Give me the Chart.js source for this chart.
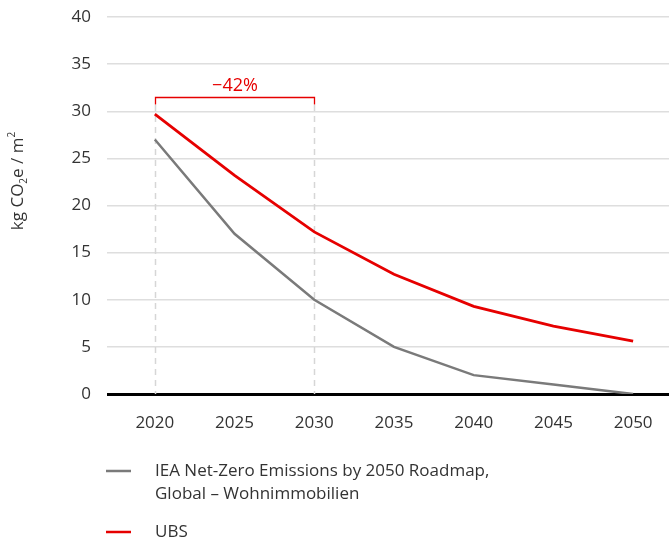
<!DOCTYPE html>
<html>
<head>
<meta charset="utf-8">
<script src="https://cdn.jsdelivr.net/npm/chart.js@4/dist/chart.umd.min.js"></script>
<style>
  html, body { margin: 0; padding: 0; background: #fff; }
</style>
</head>
<body>
<canvas id="linechart" width="669" height="540"></canvas>
<script>
// Emissionspfade in kg CO2e pro m2
const years = [2020, 2025, 2030, 2035, 2040, 2045, 2050];
const ieaValues = [27, 17, 10, 5, 2, 1, 0];
const ubsValues = [29.7, 23.2, 17.2, 12.7, 9.3, 7.2, 5.6];
const yTicks = [0, 5, 10, 15, 20, 25, 30, 35, 40];
const ieaLabel = ['IEA Net-Zero Emissions by 2050 Roadmap,', 'Global – Wohnimmobilien'];
const ubsLabel = ['UBS'];

const RED = '#e60000';
const GREY = '#7a7a7a';
const TEXT = '#333333';
const FONT = '"Open Sans", "Noto Sans", sans-serif';

// Veränderung UBS 2020 -> 2030
const changePct = Math.round((ubsValues[2] - ubsValues[0]) / ubsValues[0] * 100);
const changeText = '\u2212' + Math.abs(changePct) + '%';

const extras = {
    id: 'extras',
    beforeDatasetsDraw(chart) {
        const ctx = chart.ctx, x = chart.scales.x, y = chart.scales.y;
        const top = y.getPixelForValue(31.5) + 8;
        const bottom = y.getPixelForValue(0);
        ctx.save();
        ctx.strokeStyle = '#d6d6d6';
        ctx.lineWidth = 1.5;
        ctx.setLineDash([6, 5]);
        [years[0], years[2]].forEach(v => {
            const px = Math.round(x.getPixelForValue(v)) + 0.5;
            ctx.beginPath();
            ctx.moveTo(px, top);
            ctx.lineTo(px, bottom);
            ctx.stroke();
        });
        ctx.restore();
    },
    afterDraw(chart) {
        const ctx = chart.ctx, x = chart.scales.x, y = chart.scales.y;
        ctx.save();

        // Klammer -42%
        const x1 = Math.round(x.getPixelForValue(years[0])) + 0.5;
        const x2 = Math.round(x.getPixelForValue(years[2])) + 0.5;
        const by = Math.round(y.getPixelForValue(31.5)) + 0.5;
        ctx.strokeStyle = RED;
        ctx.lineWidth = 1.3;
        ctx.beginPath();
        ctx.moveTo(x1, by + 7);
        ctx.lineTo(x1, by);
        ctx.lineTo(x2, by);
        ctx.lineTo(x2, by + 7);
        ctx.stroke();
        ctx.fillStyle = RED;
        ctx.font = '18px ' + FONT;
        ctx.textAlign = 'center';
        ctx.textBaseline = 'middle';
        ctx.fillText(changeText, (x1 + x2) / 2, by - 12);

        // Achsentitel kg CO2e / m2
        ctx.translate(17, 181);
        ctx.rotate(-Math.PI / 2);
        ctx.fillStyle = TEXT;
        ctx.textBaseline = 'alphabetic';
        ctx.textAlign = 'left';
        const parts = [['kg CO', 0, 17], ['2', 4, 10], ['e / m', 0, 17], ['2', -8, 10]];
        let w = 0;
        parts.forEach(p => { ctx.font = p[2] + 'px ' + FONT; w += ctx.measureText(p[0]).width; });
        let cx = -w / 2;
        parts.forEach(p => {
            ctx.font = p[2] + 'px ' + FONT;
            ctx.fillText(p[0], cx, 6 + p[1]);
            cx += ctx.measureText(p[0]).width;
        });
        ctx.setTransform(1, 0, 0, 1, 0, 0);

        // Legende
        const entries = [[GREY, ieaLabel, 471], [RED, ubsLabel, 532]];
        ctx.font = '17px ' + FONT;
        ctx.textAlign = 'left';
        ctx.textBaseline = 'middle';
        entries.forEach(e => {
            ctx.strokeStyle = e[0];
            ctx.lineWidth = 2.5;
            ctx.beginPath();
            ctx.moveTo(106, e[2]);
            ctx.lineTo(131, e[2]);
            ctx.stroke();
            ctx.fillStyle = TEXT;
            e[1].forEach((line, i) => ctx.fillText(line, 155, e[2] + i * 23));
        });
        ctx.restore();
    }
};

new Chart(document.getElementById('linechart'), {
    type: 'line',
    data: {
        datasets: [
            {
                label: ieaLabel.join(' '),
                data: years.map((yr, i) => ({ x: yr, y: ieaValues[i] })),
                borderColor: GREY,
                borderWidth: 2.5,
                pointRadius: 0,
                tension: 0
            },
            {
                label: ubsLabel[0],
                data: years.map((yr, i) => ({ x: yr, y: ubsValues[i] })),
                borderColor: RED,
                borderWidth: 2.8,
                pointRadius: 0,
                tension: 0
            }
        ]
    },
    options: {
        responsive: false,
        animation: false,
        devicePixelRatio: 1,
        layout: { padding: { top: 17, left: 0, right: 0, bottom: 0 } },
        scales: {
            x: {
                type: 'linear',
                min: 2017,
                max: 2052.25,
                afterBuildTicks: s => { s.ticks = years.map(v => ({ value: v })); },
                afterFit: s => {
                    s.height = 146;
                    s.paddingLeft = 0;
                    s.paddingRight = 0;
                },
                grid: { display: false, drawTicks: false },
                border: { display: false },
                ticks: {
                    padding: 19,
                    color: TEXT,
                    font: { family: FONT, size: 17 },
                    callback: v => String(v)
                }
            },
            y: {
                min: 0,
                max: 40,
                afterBuildTicks: s => { s.ticks = yTicks.map(v => ({ value: v })); },
                afterFit: s => {
                    s.width = 107;
                    s.paddingTop = 0;
                    s.paddingBottom = 0;
                },
                grid: {
                    drawTicks: false,
                    color: c => c.tick && c.tick.value === 0 ? '#000000' : '#dedede',
                    lineWidth: c => c.tick && c.tick.value === 0 ? 3 : 1.5
                },
                border: { display: false },
                ticks: {
                    padding: 16,
                    color: TEXT,
                    font: { family: FONT, size: 17 }
                }
            }
        },
        plugins: { legend: { display: false }, tooltip: { enabled: false } }
    },
    plugins: [extras]
});
</script>
</body>
</html>
